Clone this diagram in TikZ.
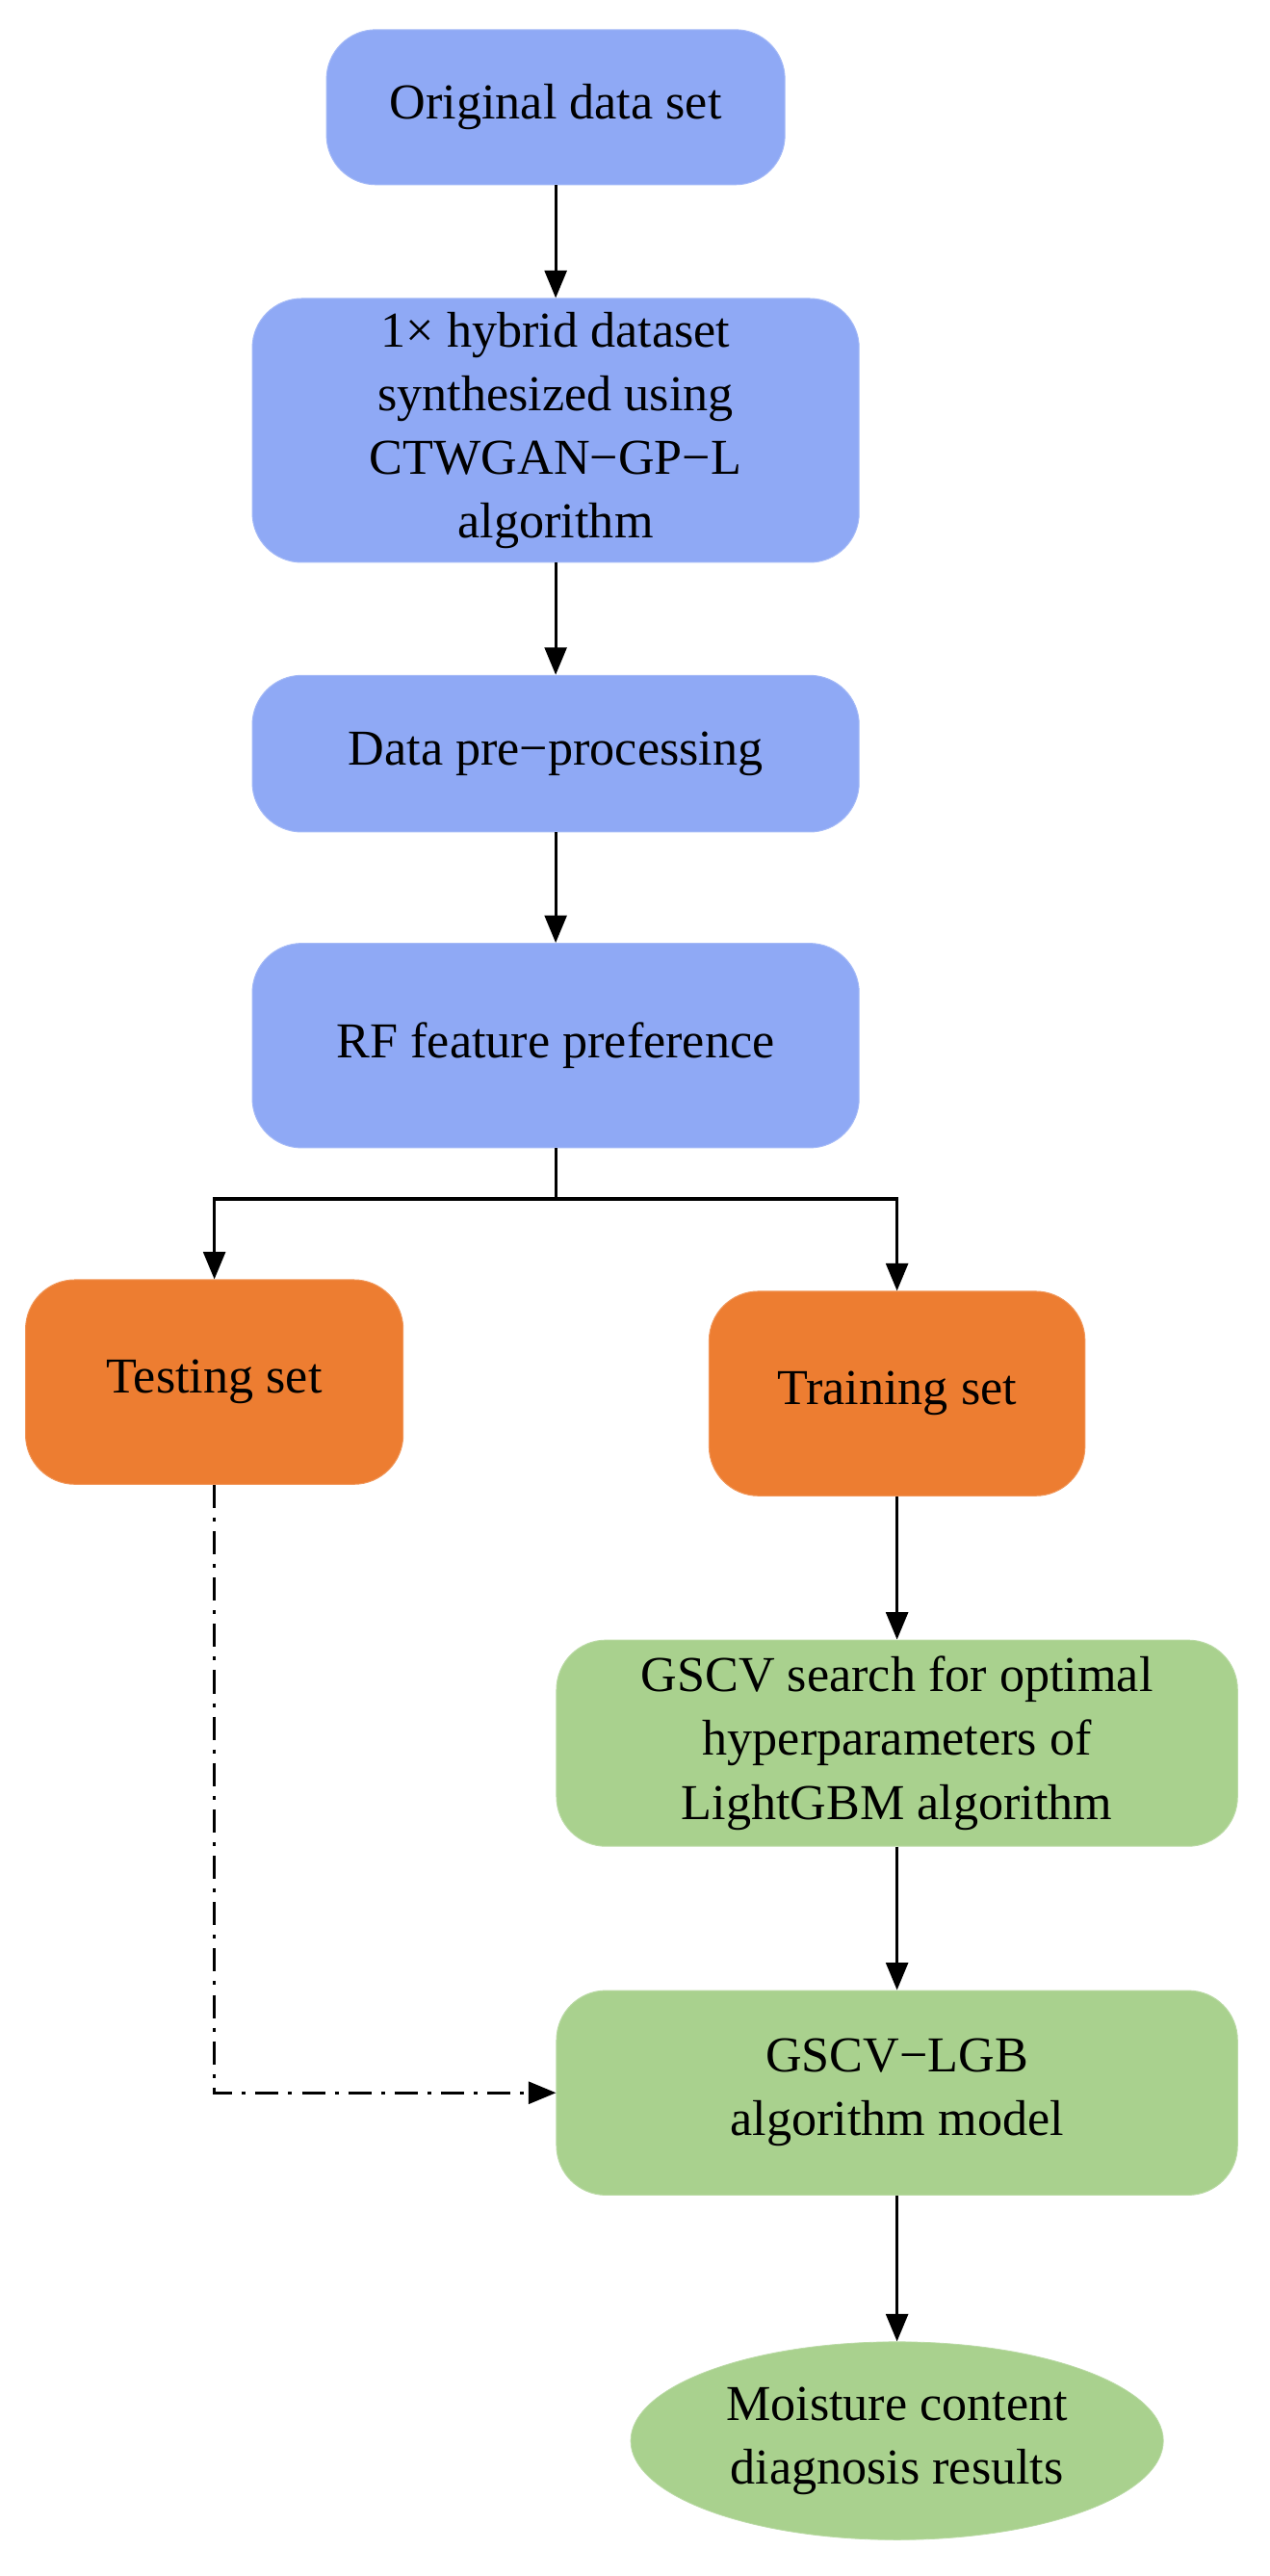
\documentclass[tikz,border=0pt]{standalone}
\usepackage{fontspec}
\setmainfont{Liberation Serif}
\usetikzlibrary{shapes.geometric,arrows.meta}
\definecolor{cblue}{HTML}{8FA9F5}
\definecolor{corange}{HTML}{ED7D31}
\definecolor{cgreen}{HTML}{A9D18E}
\begin{document}
\begin{tikzpicture}[x=0.03cm,y=-0.03cm,
 box/.style={draw=#1!80!white,line width=0.5pt,fill=#1,rounded corners=0.9cm,align=center,inner sep=0pt,font=\fontsize{26}{33}\selectfont},
 arr/.style={line width=1.6pt,-{Triangle[length=0.5cm,width=0.4cm]}}]
\useasboundingbox (0,0) rectangle (770,1562);
\node[box=cblue,minimum width=278*0.03cm,minimum height=94*0.03cm] (a) at (337,65) {Original data set};
\node[box=cblue,minimum width=368*0.03cm,minimum height=160*0.03cm] (b) at (337,261) {1× hybrid dataset\\synthesized using\\CTWGAN−GP−L\\algorithm};
\node[box=cblue,minimum width=368*0.03cm,minimum height=95*0.03cm] (c) at (337,457) {Data pre−processing};
\node[box=cblue,minimum width=368*0.03cm,minimum height=124*0.03cm] (d) at (337,634) {RF feature preference};
\node[box=corange,minimum width=229*0.03cm,minimum height=124*0.03cm] (e) at (130,838) {Testing set};
\node[box=corange,minimum width=228*0.03cm,minimum height=124*0.03cm] (f) at (544,845) {Training set};
\node[box=cgreen,minimum width=413*0.03cm,minimum height=125*0.03cm] (g) at (544,1057) {GSCV search for optimal\\hyperparameters of\\LightGBM algorithm};
\node[box=cgreen,minimum width=413*0.03cm,minimum height=124*0.03cm] (h) at (544,1269) {GSCV−LGB\\algorithm model};
\node[ellipse,fill=cgreen,draw=cgreen!80!white,minimum width=323*0.03cm,minimum height=120*0.03cm,inner sep=0pt,align=center,font=\fontsize{26}{33}\selectfont] (i) at (544,1480) {Moisture content\\diagnosis results};
\coordinate (j) at (337,727);
\draw[arr] (a) -- (b);
\draw[arr] (b) -- (c);
\draw[arr] (c) -- (d);
\draw[line width=1.6pt] (d.south) -- (j);
\draw[arr] (j) -| (e.north);
\draw[arr] (j) -| (f.north);
\draw[arr] (f) -- (g);
\draw[arr] (g) -- (h);
\draw[arr] (h) -- (i);
\draw[arr,dash pattern=on 12pt off 5pt on 2pt off 5pt] (e.south) |- (h.west);
\end{tikzpicture}
\end{document}
